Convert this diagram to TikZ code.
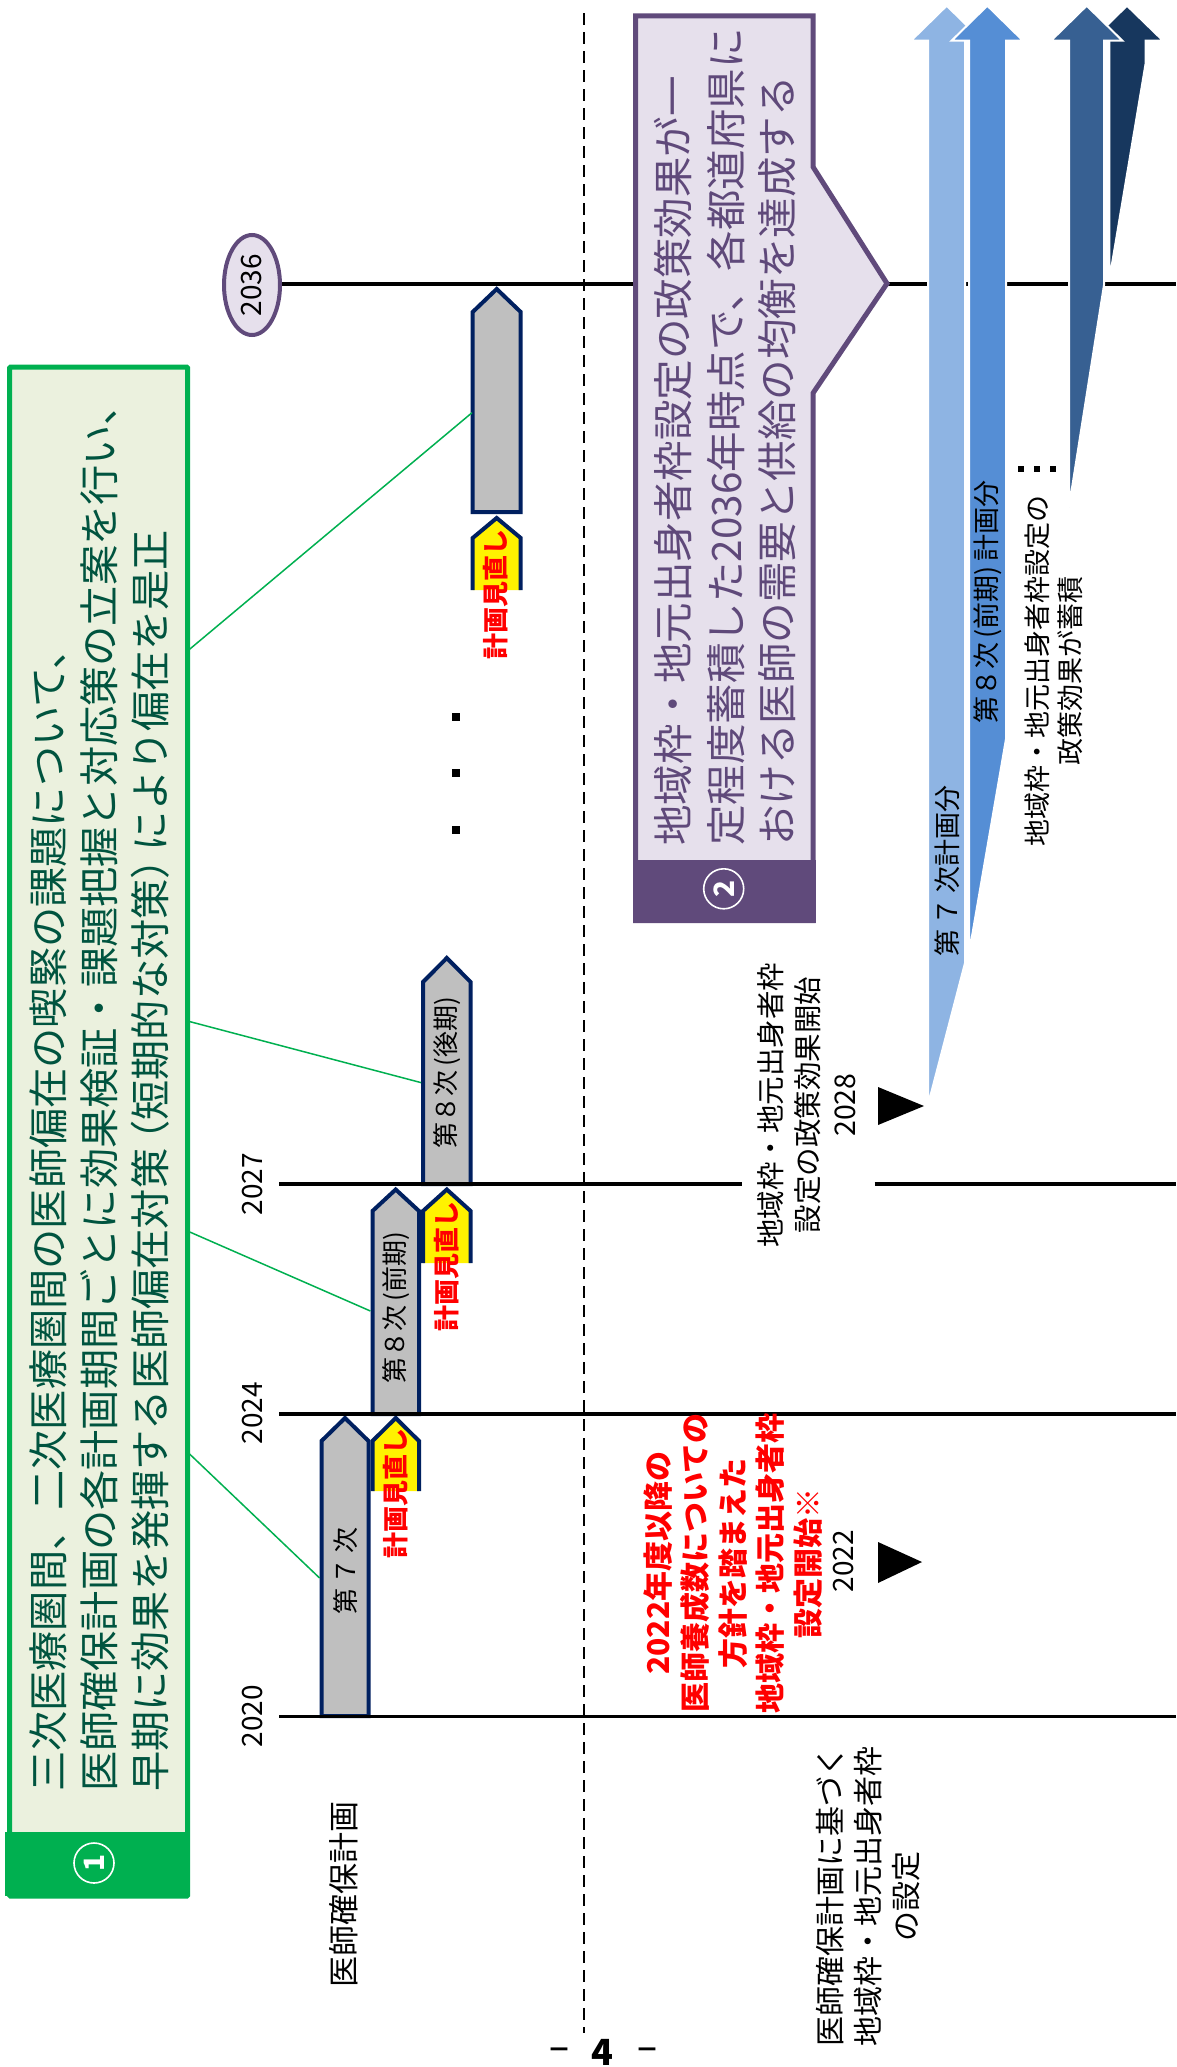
\documentclass[tikz,border=0pt]{standalone}
\usepackage{fontspec}
\setmainfont{Noto Sans CJK JP}
\usetikzlibrary{shapes.geometric}
\definecolor{gborder}{HTML}{00B050}
\definecolor{gfill}{HTML}{EBF1DE}
\definecolor{gtext}{HTML}{00543F}
\definecolor{pborder}{HTML}{604A7B}
\definecolor{pfill}{HTML}{E6E0EC}
\definecolor{ptext}{HTML}{5F497A}
\definecolor{boxgray}{HTML}{BFBFBF}
\definecolor{navyb}{HTML}{002060}
\definecolor{arA}{HTML}{8EB4E3}
\definecolor{arB}{HTML}{558ED5}
\definecolor{arC}{HTML}{376092}
\definecolor{arD}{HTML}{17375E}
\definecolor{redt}{HTML}{FF0000}
\newcommand\myfs[2]{\fontsize{#1pt}{#2pt}\selectfont}
\begin{document}
\begin{tikzpicture}[x=1pt,y=-1pt,
  rt/.style={rotate=90,inner sep=0pt},
  yline/.style={line width=3.5pt,black},
  grayb/.style={fill=boxgray,draw=navyb,line width=4pt,line join=miter},
  yelfill/.style={fill=yellow},
  yeldraw/.style={draw=navyb,line width=4pt,line join=miter},
  conn/.style={draw=gborder,line width=1.5pt},
  arr/.style={draw=white,line width=2pt,line join=miter},
  circnum/.style={circle,draw=white,line width=1.6pt,minimum size=40pt,inner sep=0pt,text=white,font=\myfs{28}{28}\bfseries,rotate=90},
  yearlab/.style={rt,font=\myfs{28}{28}},
  boxlab/.style={rt,font=\myfs{26}{26}},
  revlab/.style={rt,font=\myfs{26}{26}\bfseries,text=redt},
]
\fill[white] (0,0) rectangle (1176,2067);
\useasboundingbox (0,0) rectangle (1176,2067);

% dashed centre line
\coordinate (dtop) at (584,13);
\coordinate (dbot) at (584,2033);
\draw[line width=2pt,dash pattern=on 12pt off 7pt] (dtop) -- (dbot);

% green box 1
\node[draw=gborder,fill=gfill,line width=5pt,minimum width=178pt,minimum height=1529pt,inner sep=0pt,anchor=north west,rounded corners=1pt] (g1) at (7.1,364.6) {};
\fill[gborder] (4.6,1832) rectangle (187.6,1896);
\node[circnum] (c1) at (94,1863) {1};
\node[rt,anchor=west,text=gtext,font=\myfs{40.2}{40.2}] (g1a) at (48,1792) {三次医療圏間、二次医療圏間の医師偏在の喫緊の課題について、};
\node[rt,anchor=west,text=gtext,font=\myfs{40.2}{40.2}] (g1b) at (99,1792) {医師確保計画の各計画期間ごとに効果検証・課題把握と対応策の立案を行い、};
\node[rt,anchor=west,text=gtext,font=\myfs{40.2}{40.2}] (g1c) at (150,1792) {早期に効果を発揮する医師偏在対策\kern-12pt（短期的な対策）\kern-12pt により偏在を是正};

% gray plan boxes
\draw[grayb] (321.5,1716) -- (321.5,1441) -- (345,1418) -- (368.5,1441) -- (368.5,1716) -- cycle;
\draw[grayb] (372.5,1414) -- (372.5,1211) -- (395.7,1189.5) -- (419,1211) -- (419,1414) -- cycle;
\draw[grayb] (423,1184) -- (423,982) -- (446.8,958) -- (470.6,982) -- (470.6,1184) -- cycle;
\draw[grayb] (472.7,512) -- (472.7,312) -- (496.7,289) -- (520.7,312) -- (520.7,512) -- cycle;
\node[boxlab] (b7) at (346,1571) {第\,７\,次};
\node[boxlab] (b8a) at (396,1308) {第８次\,(前期)};
\node[boxlab] (b8b) at (447,1073) {第８次\,(後期)};

% yellow review boxes
\fill[yelfill] (372.5,1491) -- (372.5,1441) -- (395.7,1418) -- (419,1441) -- (419,1491) -- cycle;
\draw[yeldraw] (372.5,1491) -- (372.5,1441) -- (395.7,1418) -- (419,1441) -- (419,1491);
\fill[yelfill] (423,1263) -- (423,1211) -- (446.8,1189.5) -- (470.6,1211) -- (470.6,1263) -- cycle;
\draw[yeldraw] (423,1263) -- (423,1211) -- (446.8,1189.5) -- (470.6,1211) -- (470.6,1263);
\fill[yelfill] (472.7,590) -- (472.7,538) -- (496.7,518) -- (520.7,538) -- (520.7,590) -- cycle;
\draw[yeldraw] (472.7,590) -- (472.7,538) -- (496.7,518) -- (520.7,538) -- (520.7,590);
\node[revlab] (r1) at (396,1493) {計画見直し};
\node[revlab] (r2) at (446.5,1266) {計画見直し};
\node[revlab] (r3) at (496,594) {計画見直し};

% year lines
\coordinate (y36a) at (279,284);   \coordinate (y36b) at (1176,284);
\coordinate (y27a) at (279,1184);  \coordinate (y27b) at (741.5,1184);
\coordinate (y27c) at (874.5,1184);\coordinate (y27d) at (1176,1184);
\coordinate (y24a) at (279,1414);  \coordinate (y24b) at (1176,1414);
\coordinate (y20a) at (279,1716.5);\coordinate (y20b) at (1176,1716.5);
\draw[yline] (y36a) -- (y36b);
\draw[yline] (y27a) -- (y27b);
\draw[yline] (y27c) -- (y27d);
\draw[yline] (y24a) -- (y24b);
\draw[yline] (y20a) -- (y20b);

% year labels
\node[ellipse,draw=pborder,fill=pfill,line width=4pt,minimum width=56pt,minimum height=100pt,inner sep=0pt] (e36) at (252,285) {};
\node[yearlab] (t36) at (e36.center) {2036};
\node[yearlab] (t27) at (253,1184) {2027};
\node[yearlab] (t24) at (253,1413) {2024};
\node[yearlab] (t20) at (253,1716) {2020};
\node[rt,font=\myfs{31}{31}] (plan) at (344,1894) {医師確保計画};

% purple box 2
\draw[pborder,fill=pfill,line width=5pt,line join=miter] (635.5,15.9) -- (813.1,15.9) -- (813.1,167) -- (887,283.5) -- (813.1,393) -- (813.1,920.5) -- (635.5,920.5) -- cycle;
\fill[pborder] (633,860) rectangle (815.6,923);
\node[circnum] (c2) at (723.7,888.8) {2};
\node[rt,anchor=west,text=ptext,font=\myfs{40.5}{40.5}] (p2a) at (673,846) {地域枠・地元出身者枠設定の政策効果が一};
\node[rt,anchor=west,text=ptext,font=\myfs{40.5}{40.5}] (p2b) at (726,846) {定程度蓄積した2036年時点で、各都道府県に};
\node[rt,anchor=west,text=ptext,font=\myfs{40.5}{40.5}] (p2c) at (777.6,846) {おける医師の需要と供給の均衡を達成する};

% blue arrows
\filldraw[arr,fill=arA] (928,1105) -- (928,40.7) -- (911,40.7) -- (946.7,5.7) -- (982.4,40.7) -- (965,40.7) -- (965,963) -- cycle;
\filldraw[arr,fill=arB] (969,953.6) -- (969,40.7) -- (951.6,40.7) -- (987.3,5.7) -- (1023,40.7) -- (1006,40.7) -- (1006,739) -- cycle;
\filldraw[arr,fill=arD] (1109.3,280) -- (1109.3,40.7) -- (1091.3,40.7) -- (1127,5.7) -- (1163,40.7) -- (1145.7,40.7) -- (1145.7,63) -- cycle;
\filldraw[arr,fill=arC] (1069,507) -- (1069,40.7) -- (1051,40.7) -- (1086.7,5.7) -- (1122.4,40.7) -- (1104,40.7) -- (1104,285) -- cycle;
\node[rt,font=\myfs{27}{27}] (a7) at (947,871) {第\,７\,次計画分};
\node[rt,font=\myfs{27}{27}] (a8) at (988,602) {第８次\,(前期)\,計画分};
\node[rt,align=center,font=\myfs{27}{33}] (acc) at (1053.5,671) {地域枠・地元出身者枠設定の\\政策効果が蓄積};
\fill (1018,466) rectangle (1024,472);
\fill (1034,466) rectangle (1040,472);
\fill (1050,466) rectangle (1056,472);

% dots between plans
\fill (452,713) rectangle (460,721);
\fill (452,769) rectangle (460,777);
\fill (452,826) rectangle (460,834);

% green connectors
\coordinate (ga) at (187.5,651);  \coordinate (ba) at (472,412.7);
\coordinate (gb) at (187.5,1021); \coordinate (bb) at (421,1082.6);
\coordinate (gc) at (187.5,1231); \coordinate (bc) at (370.4,1311);
\coordinate (gd) at (187.5,1452); \coordinate (bd) at (319.6,1578);
\draw[conn] (ga) -- (ba);
\draw[conn] (gb) -- (bb);
\draw[conn] (gc) -- (bc);
\draw[conn] (gd) -- (bd);

% 2028 annotation
\node[rt,align=center,font=\myfs{28.5}{37}] (n28) at (807,1105) {地域枠・地元出身者枠\\設定の政策効果開始\\2028};
\fill (878,1087) -- (878,1125) -- (924,1106) -- cycle;

% 2022 annotation
\node[rt,align=center,font=\myfs{30}{37.5}\bfseries,text=redt] (n22r) at (733,1563) {2022年度以降の\\医師養成数についての\\方針を踏まえた\\地域枠・地元出身者枠\\設定開始※};
\node[yearlab] (n22) at (844,1561) {2022};
\fill (878,1542) -- (878,1583) -- (922,1562) -- cycle;

% bottom annotation
\node[rt,align=center,font=\myfs{30}{38}] (nbase) at (868,1896) {医師確保計画に基づく\\地域枠・地元出身者枠\\の設定};

% page number
\node[inner sep=0pt,font=\myfs{24}{24}\bfseries] (pm1) at (559,2053) {－};
\node[inner sep=0pt,font=\myfs{36}{36}\bfseries] (pn) at (602,2052) {4};
\node[inner sep=0pt,font=\myfs{24}{24}\bfseries] (pm2) at (647,2053) {－};
\end{tikzpicture}
\end{document}
